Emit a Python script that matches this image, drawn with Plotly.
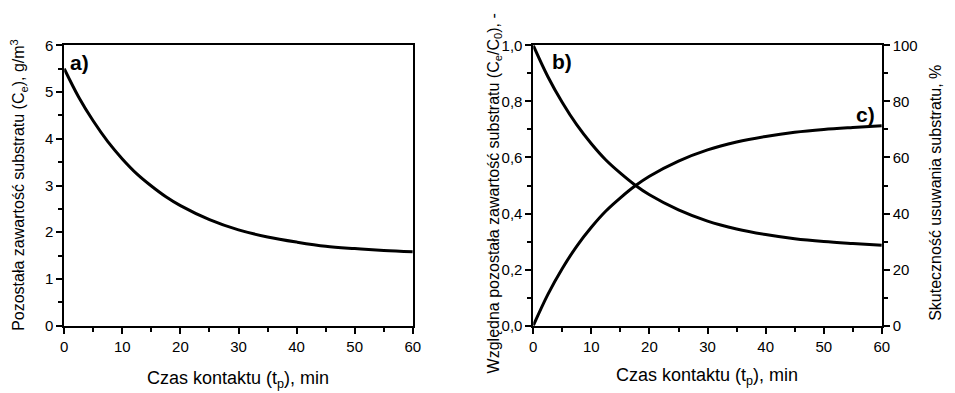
import plotly.graph_objects as go

# Contact time, min
t = [0, 2.5, 5, 7.5, 10, 12.5, 15, 17.5, 20, 25, 30, 35, 40, 45, 50, 55, 60]
# a) residual substrate concentration Ce, g/m3
ce = [5.50, 4.89, 4.38, 3.94, 3.57, 3.25, 2.99, 2.76, 2.57, 2.27, 2.05, 1.90, 1.79, 1.70, 1.65, 1.61, 1.58]
# b) relative residual substrate Ce/C0, -
ce_c0 = [1.000, 0.889, 0.796, 0.716, 0.649, 0.591, 0.544, 0.502, 0.467, 0.413, 0.373, 0.345, 0.325, 0.310, 0.300, 0.293, 0.287]
# c) substrate removal efficiency, %
removal = [0.0, 11.1, 20.4, 28.4, 35.1, 40.9, 45.6, 49.8, 53.3, 58.7, 62.7, 65.5, 67.5, 69.0, 70.0, 70.7, 71.3]

FONT = "Liberation Sans, Arial, sans-serif"
line = dict(color="black", width=3, shape="spline")

fig = go.Figure()
fig.add_trace(go.Scatter(x=t, y=ce, mode="lines", line=line, xaxis="x", yaxis="y"))
fig.add_trace(go.Scatter(x=t, y=ce_c0, mode="lines", line=line, xaxis="x2", yaxis="y2"))
fig.add_trace(go.Scatter(x=t, y=removal, mode="lines", line=line, xaxis="x2", yaxis="y3"))

axis_common = dict(
    showgrid=False, zeroline=False, showline=True, linecolor="black", linewidth=1.7,
    mirror=True, ticks="outside", ticklen=6, tickwidth=1.5, tickcolor="black",
    tickfont=dict(family=FONT, size=15, color="black"),
    minor=dict(ticks="outside", ticklen=4, tickwidth=1.5, tickcolor="black"),
)

dom_y = [1 - 331 / 393, 1 - 38 / 393]
dom_x1 = [61 / 955, 414 / 955]
dom_x2 = [536 / 955, 889 / 955]

fig.update_layout(
    width=955, height=393,
    margin=dict(l=0, r=0, t=0, b=0),
    paper_bgcolor="white", plot_bgcolor="white",
    showlegend=False,
    separators=", ",
    font=dict(family=FONT, color="black"),
    xaxis=dict(axis_common, domain=dom_x1, anchor="y", range=[0, 60], tick0=0, dtick=10,
               minor=dict(axis_common["minor"], dtick=5)),
    yaxis=dict(axis_common, domain=dom_y, anchor="x", range=[0, 6], tick0=0, dtick=1,
               minor=dict(axis_common["minor"], dtick=0.5)),
    xaxis2=dict(axis_common, domain=dom_x2, anchor="y2", range=[0, 60], tick0=0, dtick=10,
                minor=dict(axis_common["minor"], dtick=5)),
    yaxis2=dict(axis_common, domain=dom_y, anchor="x2", range=[0, 1], tick0=0, dtick=0.2,
                tickformat=".1f", minor=dict(axis_common["minor"], dtick=0.1)),
    yaxis3=dict(axis_common, overlaying="y2", anchor="x2", side="right", range=[0, 100],
                tick0=0, dtick=20, mirror=False, minor=dict(axis_common["minor"], dtick=10)),
)

vert_font = dict(family=FONT, size=16, color="black")
horiz_font = dict(family=FONT, size=18, color="black")
ann = [
    dict(text="Pozostała zawartość substratu (C<sub>e</sub>), g/m<sup>3</sup>",
         x=15 / 955, y=1 - 184 / 393, textangle=-90, font=vert_font),
    dict(text="Czas kontaktu (t<sub>p</sub>), min", x=237 / 955, y=1 - 387 / 393, font=horiz_font),
    dict(text="Względna pozostała zawartość substratu (C<sub>e</sub>/C<sub>0</sub>), -",
         x=497 / 955, y=1 - 193 / 393, textangle=-90, font=vert_font),
    dict(text="Czas kontaktu (t<sub>p</sub>), min", x=712 / 955, y=1 - 384 / 393, font=horiz_font),
    dict(text="Skuteczność usuwania substratu, %", x=944 / 955, y=1 - 192 / 393, textangle=-90,
         font=vert_font),
]
for a in ann:
    fig.add_annotation(xref="paper", yref="paper", xanchor="center", yanchor="middle",
                       showarrow=False, **a)

label_font = dict(family=FONT, size=21, color="black")
fig.add_annotation(text="<b>a)</b>", xref="paper", yref="paper", x=65 / 955, y=1 - 56 / 393,
                   xanchor="left", yanchor="middle", showarrow=False, font=label_font)
fig.add_annotation(text="<b>b)</b>", xref="paper", yref="paper", x=553 / 955, y=1 - 55 / 393,
                   xanchor="left", yanchor="middle", showarrow=False, font=label_font)
fig.add_annotation(text="<b>c)</b>", xref="paper", yref="paper", x=884 / 955, y=1 - 110 / 393,
                   xanchor="right", yanchor="middle", showarrow=False, font=label_font)

fig.write_html("out.html")
